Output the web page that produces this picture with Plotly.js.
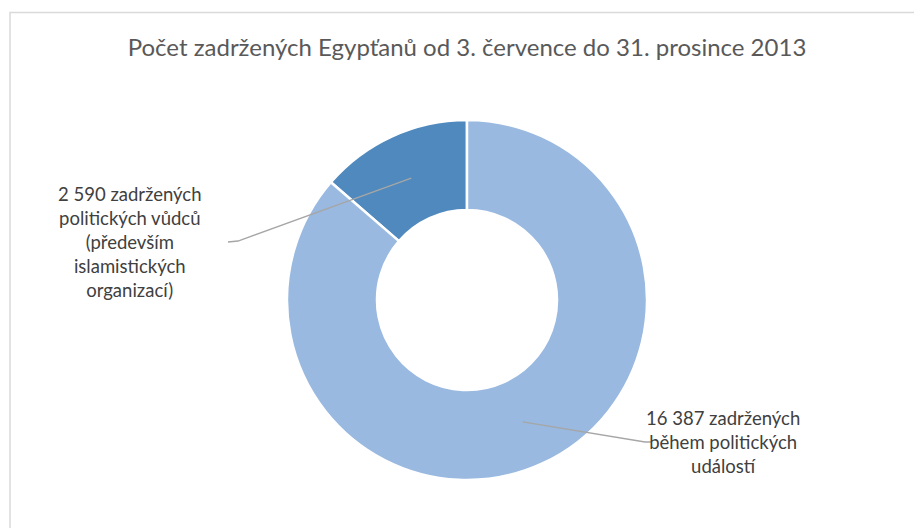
<!DOCTYPE html>
<html>
<head>
<meta charset="utf-8">
<script src="https://cdn.plot.ly/plotly-3.0.1.min.js"></script>
<style>
html,body{margin:0;padding:0;background:#fff;}
#chart{width:914px;height:528px;}
</style>
</head>
<body>
<div id="chart"></div>
<script>
// ---- data ----
var categories = ["politických vůdců", "během politických událostí"];
var values = [2590, 16387];
var labelTexts = [
  "2 590 zadržených<br>politických vůdců<br>(především<br>islamistických<br>organizací)",
  "16 387 zadržených<br>během politických<br>událostí"
];
var colors = ["#4f89bd", "#99b9e0"];
var titleText = "Počet zadržených Egypťanů od 3. července do 31. prosince 2013";

// ---- layout geometry (pixels) ----
var W = 914, H = 528;
var cx = 467, cy = 300, R = 180;
function px(x){ return x / W; }
function py(y){ return 1 - y / H; }

// label placement (positions only)
var labelPos = [
  {x: 130, y: 242, elbow: [238, 241], end: [228, 242]},
  {x: 723, y: 442, elbow: [645, 442], end: [652, 442]}
];

var total = values.reduce(function(a,b){return a+b;}, 0);
// first slice ends at 12 o'clock, extending to the left
var rotationDeg = -values[0] / total * 360;

// anchor points computed from data: slice mid-angles (counterclockwise from 12 o'clock)
var anchors = [];
var cum = 0;
for (var i = 0; i < values.length; i++) {
  var mid = (cum + values[i] / 2) / total * 2 * Math.PI;
  cum += values[i];
  var r = 0.745 * R;
  anchors.push([cx - r * Math.sin(mid), cy - r * Math.cos(mid)]);
}

var shapes = [];
// chart frame
shapes.push({
  type: 'path', xref: 'paper', yref: 'paper',
  path: 'M ' + px(10) + ' ' + py(540) + ' L ' + px(10) + ' ' + py(12.5) + ' L ' + px(930) + ' ' + py(12.5),
  line: {color: '#d9d9d9', width: 1.5}
});
var annotations = [];
for (var k = 0; k < anchors.length; k++) {
  var a = anchors[k], lp = labelPos[k];
  shapes.push({
    type: 'path', xref: 'paper', yref: 'paper',
    path: 'M ' + px(a[0]) + ' ' + py(a[1]) + ' L ' + px(lp.elbow[0]) + ' ' + py(lp.elbow[1]) + ' L ' + px(lp.end[0]) + ' ' + py(lp.end[1]),
    line: {color: '#a6a6a6', width: 1.3}
  });
  annotations.push({
    xref: 'paper', yref: 'paper', x: px(lp.x), y: py(lp.y),
    xanchor: 'center', yanchor: 'middle', showarrow: false, align: 'center',
    text: labelTexts[k],
    font: {family: 'Lato, "Open Sans", sans-serif', size: 18.5, color: '#404040'}
  });
}

var trace = {
  type: 'pie',
  labels: categories,
  values: values,
  sort: false,
  direction: 'clockwise',
  rotation: rotationDeg,
  hole: 0.5,
  textinfo: 'none',
  hoverinfo: 'none',
  showlegend: false,
  marker: {colors: colors, line: {color: '#ffffff', width: 2.5}},
  domain: {x: [px(cx - R), px(cx + R)], y: [py(cy + R), py(cy - R)]}
};

var layout = {
  width: W, height: H,
  margin: {l: 0, r: 0, t: 0, b: 0},
  paper_bgcolor: '#ffffff',
  showlegend: false,
  title: {
    text: titleText,
    x: px(467), xanchor: 'center',
    y: py(47.5), yanchor: 'middle', yref: 'paper',
    font: {family: 'Lato, "Open Sans", sans-serif', size: 24, color: '#595959'}
  },
  shapes: shapes,
  annotations: annotations
};

Plotly.newPlot('chart', [trace], layout, {displayModeBar: false, staticPlot: true});
</script>
</body>
</html>
